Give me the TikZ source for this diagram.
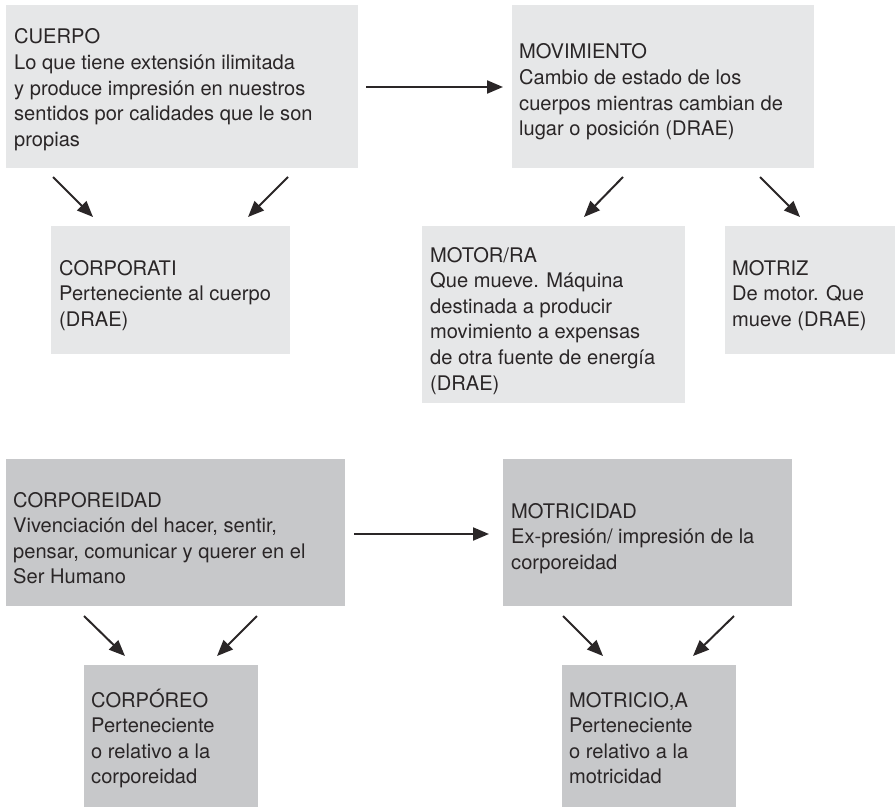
\documentclass[tikz,border=0pt]{standalone}
\usepackage{fontspec}
\setmainfont{TeX Gyre Heros}
\usetikzlibrary{arrows.meta}
\definecolor{lightbox}{HTML}{E6E7E8}
\definecolor{darkbox}{HTML}{C7C8CA}
\definecolor{ink}{HTML}{2A2627}
\newcommand{\boxtext}[1]{\begin{tabular}[t]{@{}l@{}}#1\end{tabular}}
\tikzset{
  lbox/.style={fill=lightbox, draw=none, inner sep=0pt, anchor=north west},
  dbox/.style={fill=darkbox, draw=none, inner sep=0pt, anchor=north west},
  txt/.style={anchor=base west, inner sep=0pt, text=ink, font=\fontsize{20.1bp}{25.6bp}\selectfont},
  arr/.style={draw=ink, line width=2bp, -{Triangle[length=16bp,width=13bp]}}
}
\begin{document}
\begin{tikzpicture}[x=1bp,y=-1bp]
\useasboundingbox (0,0) rectangle (895,807);
% boxes
\node[lbox, minimum width=352bp, minimum height=163bp] (cuerpo) at (6,5) {};
\node[lbox, minimum width=302bp, minimum height=163bp] (movimiento) at (512,5) {};
\node[lbox, minimum width=239bp, minimum height=128bp] (corporati) at (51,226) {};
\node[lbox, minimum width=263bp, minimum height=177bp] (motor) at (422,226) {};
\node[lbox, minimum width=170bp, minimum height=128bp] (motriz) at (725,226) {};
\node[dbox, minimum width=339bp, minimum height=147bp] (corporeidad) at (6,459) {};
\node[dbox, minimum width=289bp, minimum height=147bp] (motricidad) at (503,459) {};
\node[dbox, minimum width=174bp, minimum height=142bp] (corporeo) at (84,665) {};
\node[dbox, minimum width=174bp, minimum height=142bp] (motricio) at (562,665) {};
% texts
\node[txt] (tcuerpo) at (14,44) {\boxtext{CUERPO\\Lo que tiene extensión ilimitada\\y produce impresión en nuestros\\sentidos por calidades que le son\\propias}};
\node[txt] (tmovimiento) at (519,59) {\boxtext{MOVIMIENTO\\Cambio de estado de los\\cuerpos mientras cambian de\\lugar o posición (DRAE)}};
\node[txt] (tcorporati) at (59,275) {\boxtext{CORPORATI\\Perteneciente al cuerpo\\(DRAE)}};
\node[txt] (tmotor) at (430,262) {\boxtext{MOTOR/RA\\Que mueve. Máquina\\destinada a producir\\movimiento a expensas\\de otra fuente de energía\\(DRAE)}};
\node[txt] (tmotriz) at (732,275) {\boxtext{MOTRIZ\\De motor. Que\\mueve (DRAE)}};
\node[txt] (tcorporeidad) at (13,507) {\boxtext{CORPOREIDAD\\Vivenciación del hacer, sentir,\\pensar, comunicar y querer en el\\Ser Humano}};
\node[txt] (tmotricidad) at (511,518) {\boxtext{MOTRICIDAD\\Ex-presión/ impresión de la\\corporeidad}};
\node[txt] (tcorporeo) at (91,707) {\boxtext{CORPÓREO\\Perteneciente\\o relativo a la\\corporeidad}};
\node[txt] (tmotricio) at (569,707) {\boxtext{MOTRICIO,A\\Perteneciente\\o relativo a la\\motricidad}};
% arrow end points
\coordinate (h1s) at (366,87);  \coordinate (h1e) at (503,87);
\coordinate (h2s) at (354,534); \coordinate (h2e) at (489,534);
\coordinate (a1s) at (53,177);  \coordinate (a1e) at (93,217);
\coordinate (a2s) at (288,177); \coordinate (a2e) at (248,217);
\coordinate (a3s) at (623,177); \coordinate (a3e) at (584,217);
\coordinate (a4s) at (760,177); \coordinate (a4e) at (800,217);
\coordinate (a5s) at (84,616);  \coordinate (a5e) at (125,656);
\coordinate (a6s) at (257,616); \coordinate (a6e) at (217,656);
\coordinate (a7s) at (563,616); \coordinate (a7e) at (603,656);
\coordinate (a8s) at (734,616); \coordinate (a8e) at (693,656);
% arrows
\draw[arr] (h1s) -- (h1e);
\draw[arr] (h2s) -- (h2e);
\draw[arr] (a1s) -- (a1e);
\draw[arr] (a2s) -- (a2e);
\draw[arr] (a3s) -- (a3e);
\draw[arr] (a4s) -- (a4e);
\draw[arr] (a5s) -- (a5e);
\draw[arr] (a6s) -- (a6e);
\draw[arr] (a7s) -- (a7e);
\draw[arr] (a8s) -- (a8e);
\end{tikzpicture}
\end{document}
